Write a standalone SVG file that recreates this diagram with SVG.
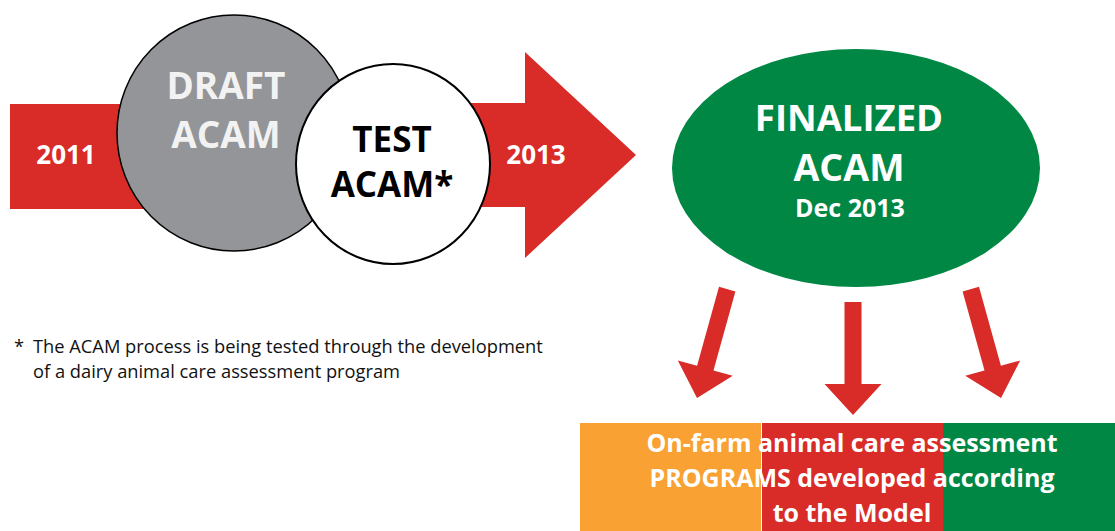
<svg xmlns="http://www.w3.org/2000/svg" width="1115" height="531" viewBox="0 0 1115 531">
<style>
  .red { fill: #d92b27; }
  .b { font-family: "Open Sans", "Liberation Sans", sans-serif; font-weight: bold; text-anchor: middle; }
  .w { fill: #ffffff; }
  .note { font-family: "Open Sans", "Liberation Sans", sans-serif; font-size: 18.3px; fill: #111111; }
</style>
<defs>
  <path id="arr" d="M-8.5,-113 L8.5,-113 L8.5,-31 L28.5,-31 L0,0 L-28.5,-31 L-8.5,-31 Z"/>
</defs>
<rect width="1115" height="531" fill="#ffffff"/>
<g id="timeline-arrow">
  <rect class="red" x="10" y="104" width="140" height="105"/>
  <polygon class="red" points="440,103 525,103 525,52 636,155 525,258 525,207 440,207"/>
  <text class="b w" x="66" y="164" font-size="26">2011</text>
  <text class="b w" x="536" y="164" font-size="26">2013</text>
</g>
<g id="draft">
  <ellipse cx="234" cy="133" rx="117" ry="118" fill="#939598" stroke="#000" stroke-width="1.5"/>
  <text class="b" x="226" y="99" font-size="37" fill="#f2f2f2">DRAFT</text>
  <text class="b" x="226" y="148" font-size="37" fill="#f2f2f2">ACAM</text>
</g>
<g id="test">
  <ellipse cx="393" cy="164" rx="97" ry="100" fill="#ffffff" stroke="#000" stroke-width="2"/>
  <text class="b" x="392" y="152" font-size="35" fill="#000">TEST</text>
  <text class="b" x="392" y="197" font-size="35" fill="#000">ACAM*</text>
</g>
<g id="finalized">
  <ellipse cx="856" cy="168" rx="184" ry="119" fill="#008744"/>
  <text class="b w" x="849" y="131" font-size="36.5">FINALIZED</text>
  <text class="b w" x="849" y="181" font-size="37.5">ACAM</text>
  <text class="b w" x="850" y="217" font-size="25">Dec 2013</text>
</g>
<g id="connectors">
  <use href="#arr" class="red" transform="translate(697,398) rotate(15.5)"/>
  <use href="#arr" class="red" transform="translate(853,415)"/>
  <use href="#arr" class="red" transform="translate(1001,398) rotate(-15.5)"/>
</g>
<g id="footnote">
  <text class="note" x="14" y="353">*</text>
  <text class="note" x="33" y="353">The ACAM process is being tested through the development</text>
  <text class="note" x="33" y="378">of a dairy animal care assessment program</text>
</g>
<g id="programs">
  <rect x="580" y="423" width="182" height="108" fill="#f9a133"/>
  <rect x="762" y="423" width="181" height="108" fill="#d92b27"/>
  <rect x="943" y="423" width="172" height="108" fill="#008744"/>
  <line x1="761.5" y1="423" x2="761.5" y2="531" stroke="#ffffff" stroke-width="1"/>
  <text class="b w" x="852" y="452" font-size="25">On-farm animal care assessment</text>
  <text class="b w" x="852" y="487" font-size="25">PROGRAMS developed according</text>
  <text class="b w" x="852" y="522" font-size="25">to the Model</text>
</g>
</svg>
